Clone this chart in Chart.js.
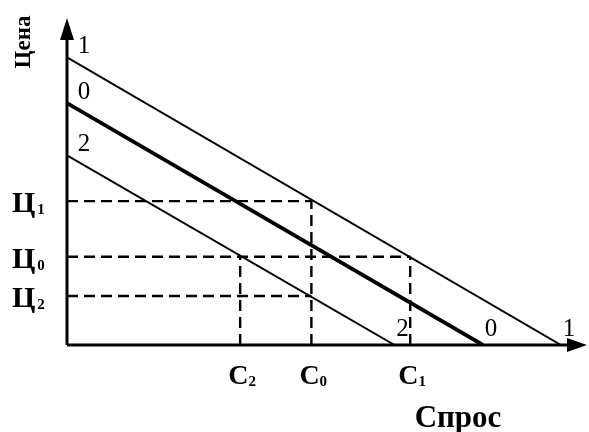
<!DOCTYPE html>
<html>
<head>
<meta charset="utf-8">
<script src="https://cdn.jsdelivr.net/npm/chart.js@4.4.1/dist/chart.umd.min.js"></script>
<style>
  html, body { margin: 0; padding: 0; background: #fff; }
  #wrap { width: 589px; height: 432px; }
</style>
</head>
<body>
<div id="wrap"><canvas id="demandChart" width="589" height="432"></canvas></div>
<script>
// demand curves 1, 0, 2 (price intercept, quantity intercept)
const curveNames = ["1", "0", "2"];
const priceIntercepts = [88, 74, 58];
const demandIntercepts = [95, 80, 63];
const curveWidths = [2, 3.8, 2];

// price levels on the y axis
const priceNames = ["1", "0", "2"];
const priceLevels = [44, 27, 15];
const priceGuideEnd = [47, 66, 47];

// quantity levels on the x axis
const demandNames = ["2", "0", "1"];
const demandLevels = [33.3, 47, 66];
const demandGuideTop = [27, 44, 27];

const datasets = [];

curveNames.forEach((name, i) => {
  datasets.push({
    label: "curve " + name,
    data: [{ x: 0, y: priceIntercepts[i] }, { x: demandIntercepts[i], y: 0 }],
    showLine: true,
    borderColor: "#000",
    borderWidth: curveWidths[i],
    pointRadius: 0,
    fill: false,
  });
});

priceLevels.forEach((p, i) => {
  datasets.push({
    label: "price " + priceNames[i],
    data: [{ x: 0, y: p }, { x: priceGuideEnd[i], y: p }],
    showLine: true,
    borderColor: "#000",
    borderWidth: 2.4,
    borderDash: [11, 6],
    pointRadius: 0,
  });
});

demandLevels.forEach((c, i) => {
  datasets.push({
    label: "demand " + demandNames[i],
    data: [{ x: c, y: 0 }, { x: c, y: demandGuideTop[i] }],
    showLine: true,
    borderColor: "#000",
    borderWidth: 2.4,
    borderDash: [11, 6],
    pointRadius: 0,
  });
});

const serif = '"Liberation Serif", "DejaVu Serif", serif';

function labelWithSub(ctx, main, sub, x, y, size, subSize, gap) {
  ctx.font = "bold " + size + "px " + serif;
  ctx.textAlign = "left";
  ctx.textBaseline = "alphabetic";
  ctx.fillText(main, x, y);
  const w = ctx.measureText(main).width;
  ctx.font = "bold " + subSize + "px " + serif;
  ctx.fillText(sub, x + w + gap, y + 2);
}

const axesAndText = {
  id: "axesAndText",
  afterDatasetsDraw(chart) {
    const { ctx, scales } = chart;
    const xs = scales.x, ys = scales.y;
    const x0 = xs.getPixelForValue(0);
    const y0 = ys.getPixelForValue(0);
    const xEnd = xs.getPixelForValue(xs.max);
    const yTop = ys.getPixelForValue(ys.max);

    ctx.save();
    ctx.strokeStyle = "#000";
    ctx.fillStyle = "#000";
    ctx.lineWidth = 3;
    ctx.beginPath();
    ctx.moveTo(x0, y0);
    ctx.lineTo(x0, yTop + 10);
    ctx.moveTo(x0, y0);
    ctx.lineTo(xEnd - 10, y0);
    ctx.stroke();

    // arrow heads
    ctx.beginPath();
    ctx.moveTo(x0, yTop);
    ctx.lineTo(x0 - 7, yTop + 22);
    ctx.lineTo(x0 + 7, yTop + 22);
    ctx.closePath();
    ctx.fill();
    ctx.beginPath();
    ctx.moveTo(xEnd, y0);
    ctx.lineTo(xEnd - 20, y0 - 7);
    ctx.lineTo(xEnd - 20, y0 + 7);
    ctx.closePath();
    ctx.fill();

    // curve names near the price axis
    ctx.font = "25px " + serif;
    ctx.textAlign = "center";
    ctx.textBaseline = "middle";
    curveNames.forEach((name, i) => {
      ctx.fillText(name, x0 + 17, ys.getPixelForValue(priceIntercepts[i]) - 11);
    });
    // curve names near the quantity axis
    curveNames.forEach((name, i) => {
      ctx.fillText(name, xs.getPixelForValue(demandIntercepts[i]) + 8, y0 - 16);
    });

    // price labels
    priceLevels.forEach((p, i) => {
      labelWithSub(ctx, "Ц", priceNames[i], 12, ys.getPixelForValue(p) + 11, 30, 15, 2);
    });
    // quantity labels
    demandLevels.forEach((c, i) => {
      labelWithSub(ctx, "С", demandNames[i], xs.getPixelForValue(c) - 12, y0 + 39, 28, 15, 0);
    });

    // axis titles
    ctx.font = "bold 31px " + serif;
    ctx.textAlign = "center";
    ctx.textBaseline = "alphabetic";
    ctx.fillText("Спрос", 458, 427);

    ctx.translate(30, 42);
    ctx.rotate(-Math.PI / 2);
    ctx.font = "bold 23px " + serif;
    ctx.textAlign = "center";
    ctx.textBaseline = "alphabetic";
    ctx.fillText("Цена", 0, 0);
    ctx.restore();
  },
};

new Chart(document.getElementById("demandChart"), {
  type: "scatter",
  data: { datasets },
  options: {
    responsive: false,
    animation: false,
    layout: { padding: { left: 67, top: 18, right: 2, bottom: 87 } },
    plugins: { legend: { display: false }, tooltip: { enabled: false } },
    scales: {
      x: { type: "linear", min: 0, max: 100, display: false },
      y: { type: "linear", min: 0, max: 100, display: false },
    },
  },
  plugins: [axesAndText],
});
</script>
</body>
</html>
